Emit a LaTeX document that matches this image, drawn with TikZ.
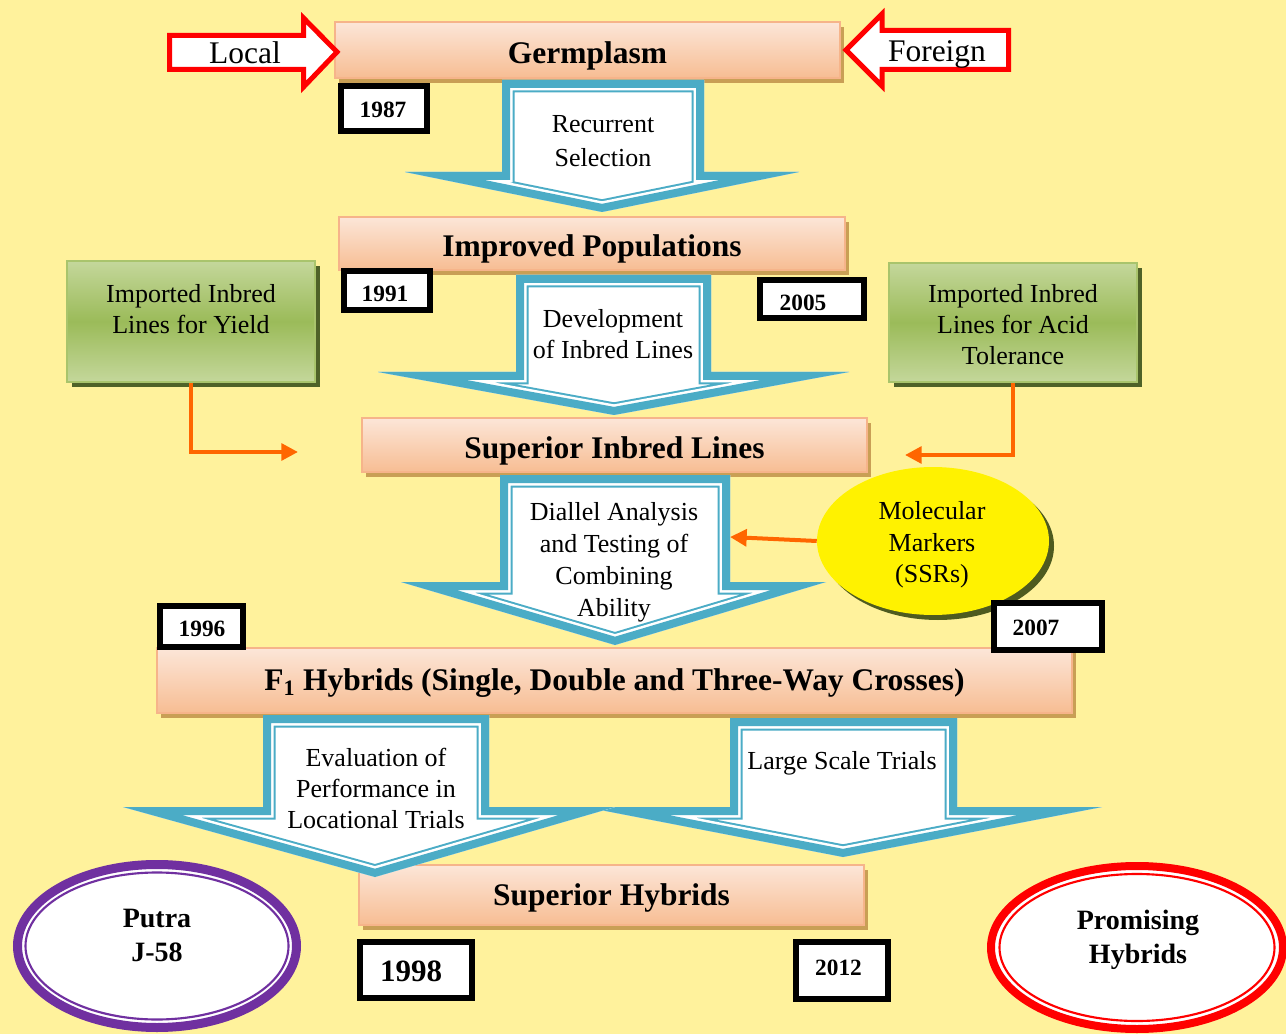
\documentclass[tikz,border=0pt]{standalone}
\usepackage{fontspec}
\setmainfont{Liberation Serif}
\usetikzlibrary{shadows,arrows.meta,shapes.geometric}
\definecolor{bgc}{HTML}{FFF29C}
\definecolor{tealc}{HTML}{4BACC6}
\definecolor{barTop}{HTML}{FCE6D8}
\definecolor{barBot}{HTML}{F7BD93}
\definecolor{barLine}{HTML}{F6B48A}
\definecolor{barShadow}{HTML}{C99F55}
\definecolor{grnLight}{HTML}{C4D79B}
\definecolor{grnMid}{HTML}{9BBB59}
\definecolor{grnLine}{HTML}{A9C46C}
\definecolor{grnShadow}{HTML}{4F6228}
\definecolor{oline}{HTML}{FF6600}
\definecolor{purp}{HTML}{7030A0}
\definecolor{ylwShadow}{HTML}{4E5B1F}
\definecolor{redc}{HTML}{FF0000}

\tikzset{
  bar/.style 2 args={draw=barLine, line width=1pt, top color=barTop, bottom color=barBot,
    minimum width=#1*0.75pt, minimum height=#2*0.75pt, inner sep=0pt,
    text height=20pt, text depth=0pt,
    font=\fontsize{23.6pt}{28pt}\selectfont\bfseries,
    drop shadow={shadow xshift=3pt, shadow yshift=-3.75pt, fill=barShadow, opacity=1}},
  gbox/.style 2 args={draw=grnLine, line width=1.5pt, top color=grnLight, bottom color=grnLight,
    middle color=grnMid, minimum width=#1*0.75pt, minimum height=#2*0.75pt, inner sep=0pt,
    drop shadow={shadow xshift=3.75pt, shadow yshift=-3.75pt, fill=grnShadow, opacity=1}},
  yearbox/.style 2 args={draw=black, line width=4.5pt, fill=white,
    minimum width=#1*0.75pt, minimum height=#2*0.75pt, inner sep=0pt},
  yeartxt/.style={inner sep=0pt, font=\fontsize{17.5pt}{20pt}\selectfont\bfseries},
  atext/.style={inner sep=0pt, align=center, font=\fontsize{19.5pt}{23.25pt}\selectfont},
  rtext/.style={inner sep=0pt, text height=15.6pt, text depth=0pt, font=\fontsize{23.6pt}{28pt}\selectfont},
  etext/.style={inner sep=0pt, align=center, font=\fontsize{21pt}{25.5pt}\selectfont\bfseries},
  oarrow/.style={draw=oline, line width=3pt, -{Triangle[length=12.5pt, width=12.5pt]}},
  redarr/.style={draw=redc, line width=3.75pt, fill=white, line join=miter},
}

% block arrow: #1 shaft left, #2 shaft right, #3 top, #4 head y, #5 head left, #6 head right, #7 tip x, #8 tip y
\newcommand\blockarr[8]{%
  \fill[white] (#1,#3) -- (#2,#3) -- (#2,#4) -- (#6,#4) -- (#7,#8) -- (#5,#4) -- (#1,#4) -- cycle;
  \begin{scope}
    \clip (#1,#3) -- (#2,#3) -- (#2,#4) -- (#6,#4) -- (#7,#8) -- (#5,#4) -- (#1,#4) -- cycle;
    \draw[tealc, line width=18.75pt] (#1,#3) -- (#2,#3) -- (#2,#4) -- (#6,#4) -- (#7,#8) -- (#5,#4) -- (#1,#4) -- cycle;
    \draw[white, line width=15.75pt] (#1,#3) -- (#2,#3) -- (#2,#4) -- (#6,#4) -- (#7,#8) -- (#5,#4) -- (#1,#4) -- cycle;
    \draw[tealc, line width=12pt] (#1,#3) -- (#2,#3) -- (#2,#4) -- (#6,#4) -- (#7,#8) -- (#5,#4) -- (#1,#4) -- cycle;
  \end{scope}}

\begin{document}
\begin{tikzpicture}[x=0.75pt, y=-0.75pt]
\useasboundingbox (0,0) rectangle (1286,1034);
\fill[bgc] (0,0) rectangle (1286,1034);

% orange bars
\node[bar={505}{56}] (germ) at (587.5,50) {Germplasm};
\node[bar={506}{53}] (impr) at (592,243.5) {Improved Populations};
\node[bar={505}{54}] (supinb) at (614.5,445) {Superior Inbred Lines};
\node[bar={915}{65}, text height=14.75pt] (fone) at (614.5,680.5) {F\textsubscript{1} Hybrids (Single, Double and Three-Way Crosses)};
\node[bar={505}{60}, text height=15.5pt] (suphyb) at (611.5,895) {Superior Hybrids};

% green boxes
\node[gbox={248}{121}] (gL) at (191,321.5) {};
\node[atext] (gLtxt) at (191,309.5) {Imported Inbred\\Lines for Yield};
\node[gbox={248}{119}] (gR) at (1013,322.5) {};
\node[atext] (gRtxt) at (1013,325) {Imported Inbred\\Lines for Acid\\Tolerance};

% block arrows
\blockarr{730}{957}{718}{807}{585}{1102}{843}{857}
\blockarr{263}{489}{715}{807}{123}{615}{375}{877}
\blockarr{502}{704}{80}{172}{405}{799}{602}{212}
\blockarr{516}{711}{275}{372}{378}{849}{614}{415}
\blockarr{500}{730}{475}{582}{401}{826}{615}{645}

\node[atext, font=\fontsize{19.5pt}{25.5pt}\selectfont] (rs) at (603,141.5) {Recurrent\\Selection};
\node[atext] (dev) at (613,334) {Development\\of Inbred Lines};
\node[atext, font=\fontsize{19.5pt}{24pt}\selectfont] (dia) at (614,562) {Diallel Analysis\\and Testing of\\Combining\\Ability};
\node[atext] (eva) at (376,788.5) {Evaluation of\\Performance in\\Locational Trials};
\node[atext] (lst) at (842,763) {Large Scale Trials};

% molecular markers
\node[ellipse, fill=yellow, minimum width=232*0.75pt, minimum height=148*0.75pt, inner sep=0pt,
  drop shadow={shadow xshift=3.75pt, shadow yshift=-3.75pt, fill=ylwShadow, opacity=1}]
  (mm) at (933,541) {};
\node[atext, font=\fontsize{19.5pt}{23.6pt}\selectfont] (mmtxt) at (932,545) {Molecular\\Markers\\(SSRs)};

% orange connectors
\coordinate (cL) at (298,452);
\coordinate (cR) at (905,455);
\coordinate (cM) at (730,537);
\draw[oarrow] (gL.south) |- (cL);
\draw[oarrow] (gR.south) |- (cR);
\draw[oarrow] (mm.west) -- (cM);

% local / foreign arrows
\draw[redarr] (169.5,35.5) -- (303.5,35.5) -- (303.5,18) -- (337,52) -- (303.5,87) -- (303.5,69.5) -- (169.5,69.5) -- cycle;
\node[rtext] (local) at (245,53) {Local};
\draw[redarr] (846,50) -- (882,14) -- (882,30.5) -- (1008.5,30.5) -- (1008.5,69.5) -- (882,69.5) -- (882,86) -- cycle;
\node[rtext] (foreign) at (937,51) {Foreign};

% bottom ellipses
\node[ellipse, draw=purp, line width=6.75pt, fill=white, minimum width=279*0.75pt, minimum height=163*0.75pt, inner sep=0pt] (putra) at (157,946) {};
\draw[purp, line width=1.6pt] (putra.center) ellipse [x radius=131.5, y radius=73.5];
\node[etext] (putratxt) at (157,935) {Putra\\J-58};
\node[ellipse, draw=redc, line width=6pt, fill=white, minimum width=292*0.75pt, minimum height=163*0.75pt, inner sep=0pt] (prom) at (1137,947.5) {};
\draw[redc, line width=1.6pt] (prom.center) ellipse [x radius=137.5, y radius=73.5];
\node[etext] (promtxt) at (1138,939.5) {Promising\\Hybrids};

% year boxes
\node[yearbox={86}{45}] (y1987) at (384,108.5) {};
\node[yeartxt] (t1987) at (383,109.5) {1987};
\node[yearbox={86}{39}] (y1991) at (387,290.5) {};
\node[yeartxt] (t1991) at (385,293.5) {1991};
\node[yearbox={104}{38}] (y2005) at (812,299) {};
\node[yeartxt] (t2005) at (803,303) {2005};
\node[yearbox={83}{41}] (y1996) at (201.5,626.5) {};
\node[yeartxt] (t1996) at (202,628.5) {1996};
\node[yearbox={108}{47}] (y2007) at (1048,626.5) {};
\node[yeartxt] (t2007) at (1036,627.5) {2007};
\node[yearbox={112}{56}] (y1998) at (416,970) {};
\node[yeartxt, font=\fontsize{23.25pt}{26pt}\selectfont\bfseries] (t1998) at (411,971.5) {1998};
\node[yearbox={92}{57}] (y2012) at (842,970.5) {};
\node[yeartxt] (t2012) at (838.5,968) {2012};
\end{tikzpicture}
\end{document}
